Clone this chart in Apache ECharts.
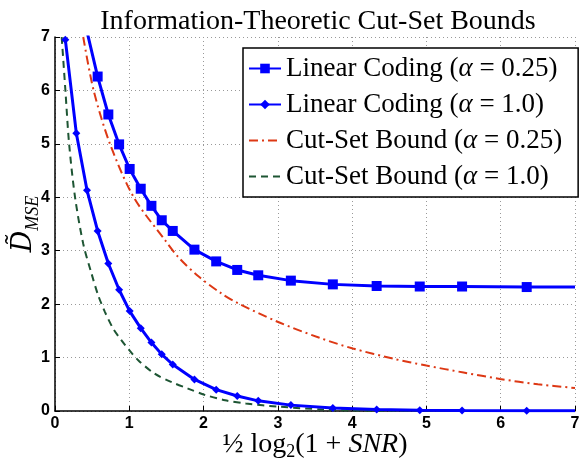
<!DOCTYPE html>
<html>
<head>
<meta charset="utf-8">
<script src="https://cdn.jsdelivr.net/npm/echarts@6/dist/echarts.min.js"></script>
<style>
  html, body { margin: 0; padding: 0; background: #fff; }
  #chart { width: 579px; height: 468px; }
</style>
</head>
<body>
<div id="chart"></div>
<script>
// x = 1/2 log2(1+SNR)
const linearX = [0.139, 0.287, 0.431, 0.574, 0.718, 0.863, 1.005, 1.154, 1.298, 1.437, 1.585,
  1.877, 2.17, 2.453, 2.736, 3.175, 3.74, 4.33, 4.91, 5.48, 6.35, 7];
const linear025 = [null, null, 7.1, 6.26, 5.55, 4.99, 4.53, 4.16, 3.84, 3.57, 3.37,
  3.02, 2.80, 2.64, 2.54, 2.44, 2.37, 2.34, 2.33, 2.33, 2.32, 2.32];
const linear100 = [6.95, 5.20, 4.13, 3.37, 2.76, 2.27, 1.87, 1.55, 1.28, 1.06, 0.87,
  0.59, 0.40, 0.28, 0.19, 0.11, 0.056, 0.026, 0.015, 0.01, 0.005, 0.003];

const boundX025 = [0.38, 0.52, 0.74, 1.06, 1.48, 1.66, 1.93, 2.24, 2.46, 2.98, 3.56,
  4.01, 4.55, 5.0, 5.5, 5.99, 6.5, 7.0];
const bound025 = [7.0, 6.0, 5.0, 4.0, 3.2, 2.88, 2.52, 2.2, 2.02, 1.68, 1.37,
  1.17, 0.98, 0.85, 0.72, 0.6, 0.5, 0.43];

const boundX100 = [0.09, 0.14, 0.19, 0.27, 0.38, 0.49, 0.58, 0.67, 0.78, 0.89, 1.0,
  1.12, 1.34, 1.57, 1.79, 2.0, 2.29, 2.57, 3.02, 3.6, 4.0, 4.5, 5.5, 7.0];
const bound100 = [7.0, 6.0, 5.0, 4.0, 3.13, 2.58, 2.17, 1.86, 1.55, 1.33, 1.14,
  0.95, 0.70, 0.54, 0.42, 0.31, 0.20, 0.14, 0.08, 0.03, 0.01, 0.006, 0.002, 0.0005];

const names = [
  'Linear Coding (α = 0.25)',
  'Linear Coding (α = 1.0)',
  'Cut-Set Bound (α = 0.25)',
  'Cut-Set Bound (α = 1.0)'
];

const serif = '"Liberation Serif", "DejaVu Serif", serif';
const sans = '"Liberation Sans", Arial, sans-serif';

// pair x/y, drop gaps, hide the marker on the clipped first point and the end point
function toPoints(xs, ys, hideFirst) {
  const out = [];
  xs.forEach((x, i) => {
    if (ys[i] == null) return;
    const item = { value: [x, ys[i]] };
    if (i === xs.length - 1 || (hideFirst && out.length === 0)) item.symbol = 'none';
    out.push(item);
  });
  return out;
}

const chart = echarts.init(document.getElementById('chart'));

const option = {
  animation: false,
  title: {
    text: 'Information-Theoretic Cut-Set Bounds',
    left: 313,
    textAlign: 'center',
    top: 3,
    textStyle: { fontFamily: serif, fontWeight: 'normal', fontSize: 28, color: '#000' }
  },
  grid: { left: 55, right: 4, top: 37, bottom: 57, outerBoundsMode: 'none', containLabel: false },
  legend: {
    orient: 'vertical',
    left: 243,
    top: 48,
    // bound curves have no markers: hide the legend dot, keep the line
    data: names.map((n, i) => i < 2 ? n : { name: n, itemStyle: { opacity: 0 } }),
    itemWidth: 32,
    itemHeight: 12,
    itemGap: 9,
    padding: [7, 16, 7, 5],
    backgroundColor: '#fff',
    borderColor: '#000',
    borderWidth: 1.5,
    borderRadius: 0,
    formatter: name => name.replace('α', '{a|α}'),
    textStyle: {
      fontFamily: serif, fontSize: 27, color: '#000',
      rich: { a: { fontFamily: serif, fontStyle: 'italic', fontSize: 27, color: '#000' } }
    }
  },
  xAxis: {
    type: 'value',
    min: 0, max: 7, interval: 1,
    name: '{n|½ log}{s|2}{n|(1 + }{i|SNR}{n|)}',
    nameLocation: 'middle',
    nameGap: 18,
    nameMoveOverlap: false,
    nameTextStyle: {
      rich: {
        n: { fontFamily: serif, fontSize: 28, color: '#000', lineHeight: 32 },
        s: { fontFamily: serif, fontSize: 18, color: '#000', verticalAlign: 'bottom', lineHeight: 32 },
        i: { fontFamily: serif, fontSize: 28, fontStyle: 'italic', color: '#000', lineHeight: 32 }
      }
    },
    axisLine: { lineStyle: { color: '#000', width: 1.5 } },
    axisTick: { inside: true, length: 5, lineStyle: { color: '#000' } },
    axisLabel: { fontFamily: sans, fontWeight: 'bold', fontSize: 16, color: '#000', margin: 5 },
    splitLine: { lineStyle: { color: '#999', type: [1, 3], width: 1 } }
  },
  yAxis: {
    type: 'value',
    min: 0, max: 7, interval: 1,
    name: '{d|D\u0303}{s|MSE}',
    nameLocation: 'middle',
    nameGap: 13,
    nameRotate: 90,
    nameMoveOverlap: false,
    nameTextStyle: {
      rich: {
        d: { fontFamily: '"DejaVu Serif", serif', fontSize: 27, fontStyle: 'italic', color: '#000', lineHeight: 36 },
        s: { fontFamily: serif, fontSize: 18, fontStyle: 'italic', color: '#000', verticalAlign: 'bottom', lineHeight: 36 }
      }
    },
    axisLine: { show: true, lineStyle: { color: '#000', width: 1.5 } },
    axisTick: { show: true, inside: true, length: 5, lineStyle: { color: '#000' } },
    axisLabel: { fontFamily: sans, fontWeight: 'bold', fontSize: 16, color: '#000', margin: 5 },
    splitLine: { lineStyle: { color: '#999', type: [1, 3], width: 1 } }
  },
  series: [
    {
      name: names[0],
      type: 'line',
      z: 5,
      data: toPoints(linearX, linear025, true),
      symbol: 'rect',
      symbolSize: 10,
      color: '#0000ff',
      lineStyle: { color: '#0000ff', width: 3 },
      itemStyle: { color: '#0000ff' }
    },
    {
      name: names[1],
      type: 'line',
      z: 5,
      data: toPoints(linearX, linear100, false),
      symbol: 'diamond',
      symbolSize: 8,
      color: '#0000ff',
      lineStyle: { color: '#0000ff', width: 3 },
      itemStyle: { color: '#0000ff' }
    },
    {
      name: names[2],
      type: 'line',
      z: 3,
      data: boundX025.map((x, i) => [x, bound025[i]]),
      symbol: 'none',
      smooth: 0.3,
      color: '#dd3814',
      lineStyle: { color: '#dd3814', width: 2, type: [9, 4, 2, 4] }
    },
    {
      name: names[3],
      type: 'line',
      z: 3,
      data: boundX100.map((x, i) => [x, bound100[i]]),
      symbol: 'none',
      smooth: 0.3,
      color: '#1d5533',
      lineStyle: { color: '#1d5533', width: 2, type: [7, 5] }
    }
  ]
};

chart.setOption(option);
</script>
</body>
</html>
